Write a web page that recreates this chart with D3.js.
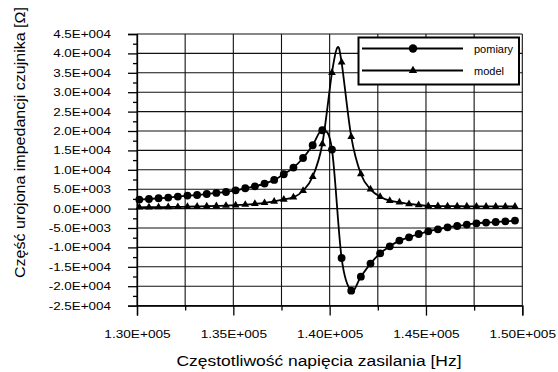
<!DOCTYPE html>
<html><head><meta charset="utf-8">
<script src="https://cdn.jsdelivr.net/npm/d3@7"></script>
<style>html,body{margin:0;padding:0;background:#fff;}svg{display:block;font-family:"Liberation Sans",Arial,sans-serif;}</style>
</head><body>
<svg id="c" width="558" height="372"></svg>
<script>
// Frequencies [Hz]
const freq = [130120,130620,131120,131620,132120,132620,133120,133620,134120,134620,
  135120,135620,136120,136620,137120,137620,138120,138620,139120,139620,
  140120,140620,141120,141620,142120,142620,143120,143620,144120,144620,
  145120,145620,146120,146620,147120,147620,148120,148620,149120,149620];
// Series "pomiary" (measurements) [Ohm]
const pomiary = [2320,2480,2660,2840,3100,3350,3510,3770,4030,4280,
  4720,5240,5750,6450,7400,8850,10570,13050,16330,20200,
  15220,-12740,-21150,-17540,-14180,-11530,-9720,-8250,-7400,-6550,
  -5850,-5340,-4820,-4490,-4130,-3790,-3610,-3460,-3280,-3090];
// Series "model" [Ohm]
const model = [340,360,380,410,450,490,540,600,680,770,
  880,1030,1230,1480,1850,2350,2900,4600,8220,16650,
  35020,37700,18530,8920,4970,3070,2040,1620,1190,930,
  700,660,630,610,590,580,570,560,550,540];
// Peak of the model line between markers (no marker)
const modelPeakFreq = 140400;
const modelPeakValue = 41500;
// Axes
const xTicks = [130000,135000,140000,145000,150000];
const xMinorTicks = [132500,137500,142500,147500];
const yTicks = [-25000,-20000,-15000,-10000,-5000,0,5000,10000,15000,20000,25000,30000,35000,40000,45000];
const yMinorTicks = [-22500,-17500,-12500,-7500,-2500,2500,7500,12500,17500,22500,27500,32500,37500,42500];
const seriesNames = ["pomiary","model"];
const xTitle = "Częstotliwość napięcia zasilania [Hz]";
const yTitle = "Część urojona impedancji czujnika [Ω]";

const L = 137, R = 522.3, T = 34, B = 305.6;
const x = d3.scaleLinear().domain([130000,150000]).range([L,R]);
const y = d3.scaleLinear().domain([-25000,45000]).range([B,T]);
const svg = d3.select("#c");

function sci(v, d){
  const [m,e] = v.toExponential(d).split("e");
  const sign = e[0]==="-" ? "-" : "+";
  const n = Math.abs(parseInt(e,10));
  return m + "E" + sign + String(n).padStart(3,"0");
}
function stretch(sel, k){
  sel.each(function(){
    const w = this.getComputedTextLength();
    d3.select(this).attr("textLength", w*k).attr("lengthAdjust","spacingAndGlyphs");
  });
}

// grid
const grid = svg.append("g").attr("stroke","#111").attr("stroke-width",1.1);
grid.selectAll("line.h").data(yTicks).join("line")
  .attr("x1",L).attr("x2",R).attr("y1",d=>y(d)).attr("y2",d=>y(d));
grid.selectAll("line.v").data(xTicks.concat(xMinorTicks)).join("line")
  .attr("y1",T).attr("y2",B).attr("x1",d=>x(d)).attr("x2",d=>x(d));

// y axis
const yAx = svg.append("g").attr("transform",`translate(${L},0)`)
  .call(d3.axisLeft(y).tickValues(yTicks).tickSize(9).tickPadding(17).tickFormat(d=>sci(d,1)));
svg.append("g").attr("transform",`translate(${L},0)`)
  .call(d3.axisLeft(y).tickValues(yMinorTicks).tickSize(4).tickFormat(""))
  .select(".domain").remove();
// x axis
const xAx = svg.append("g").attr("transform",`translate(0,${B})`)
  .call(d3.axisBottom(x).tickValues(xTicks).tickSize(10).tickPadding(14.5).tickFormat(d=>sci(d,2)));
svg.append("g").attr("transform",`translate(0,${B})`)
  .call(d3.axisBottom(x).tickValues(xMinorTicks).tickSize(5).tickFormat(""))
  .select(".domain").remove();
svg.selectAll(".tick line, .domain").attr("stroke","#000").attr("stroke-width",1.3);
svg.selectAll(".tick text").attr("font-size",11).attr("fill","#000")
  .attr("font-family","Liberation Sans, Arial, sans-serif");
stretch(yAx.selectAll(".tick text"),1.22);
stretch(xAx.selectAll(".tick text"),1.24);

// series
const line = d3.line().x(d=>x(d[0])).y(d=>y(d[1])).curve(d3.curveCardinal.tension(0));
const pData = freq.map((f,i)=>[f,pomiary[i]]);
const mData = freq.map((f,i)=>[f,model[i]]);
const mLine = mData.concat([[modelPeakFreq,modelPeakValue]]).sort((a,b)=>a[0]-b[0]);
svg.append("path").attr("d",line(mLine)).attr("fill","none").attr("stroke","#000").attr("stroke-width",1.8);
svg.append("path").attr("d",line(pData)).attr("fill","none").attr("stroke","#000").attr("stroke-width",1.8);
const circ = d3.symbol().type(d3.symbolCircle).size(48);
const tri = d3.symbol().type(d3.symbolTriangle).size(26);
svg.append("g").selectAll("path").data(mData).join("path")
  .attr("d",tri).attr("transform",d=>`translate(${x(d[0])},${y(d[1])})`).attr("fill","#000");
svg.append("g").selectAll("path").data(pData).join("path")
  .attr("d",circ).attr("transform",d=>`translate(${x(d[0])},${y(d[1])})`).attr("fill","#000");

// legend
const lg = svg.append("g");
lg.append("rect").attr("x",358.5).attr("y",37.5).attr("width",160.5).attr("height",47)
  .attr("fill","#fff").attr("stroke","#000").attr("stroke-width",2);
seriesNames.forEach((n,i)=>{
  const yy = 48.5 + i*22;
  lg.append("line").attr("x1",362).attr("x2",463).attr("y1",yy).attr("y2",yy).attr("stroke","#000").attr("stroke-width",1.8);
  lg.append("path").attr("d", i===0 ? d3.symbol().type(d3.symbolCircle).size(56)() : d3.symbol().type(d3.symbolTriangle).size(30)())
    .attr("transform",`translate(413,${yy})`).attr("fill","#000");
  lg.append("text").attr("x",474).attr("y",yy+4).attr("font-size",11).text(n);
});

// titles
svg.append("text").attr("x",319).attr("y",365.5).attr("text-anchor","middle").attr("font-size",15.5)
  .attr("textLength",285).attr("lengthAdjust","spacingAndGlyphs").text(xTitle);
svg.append("text").attr("transform","translate(25,142.5) rotate(-90)").attr("text-anchor","middle").attr("font-size",15.5)
  .attr("textLength",271).attr("lengthAdjust","spacingAndGlyphs").text(yTitle);
</script>
</body></html>
